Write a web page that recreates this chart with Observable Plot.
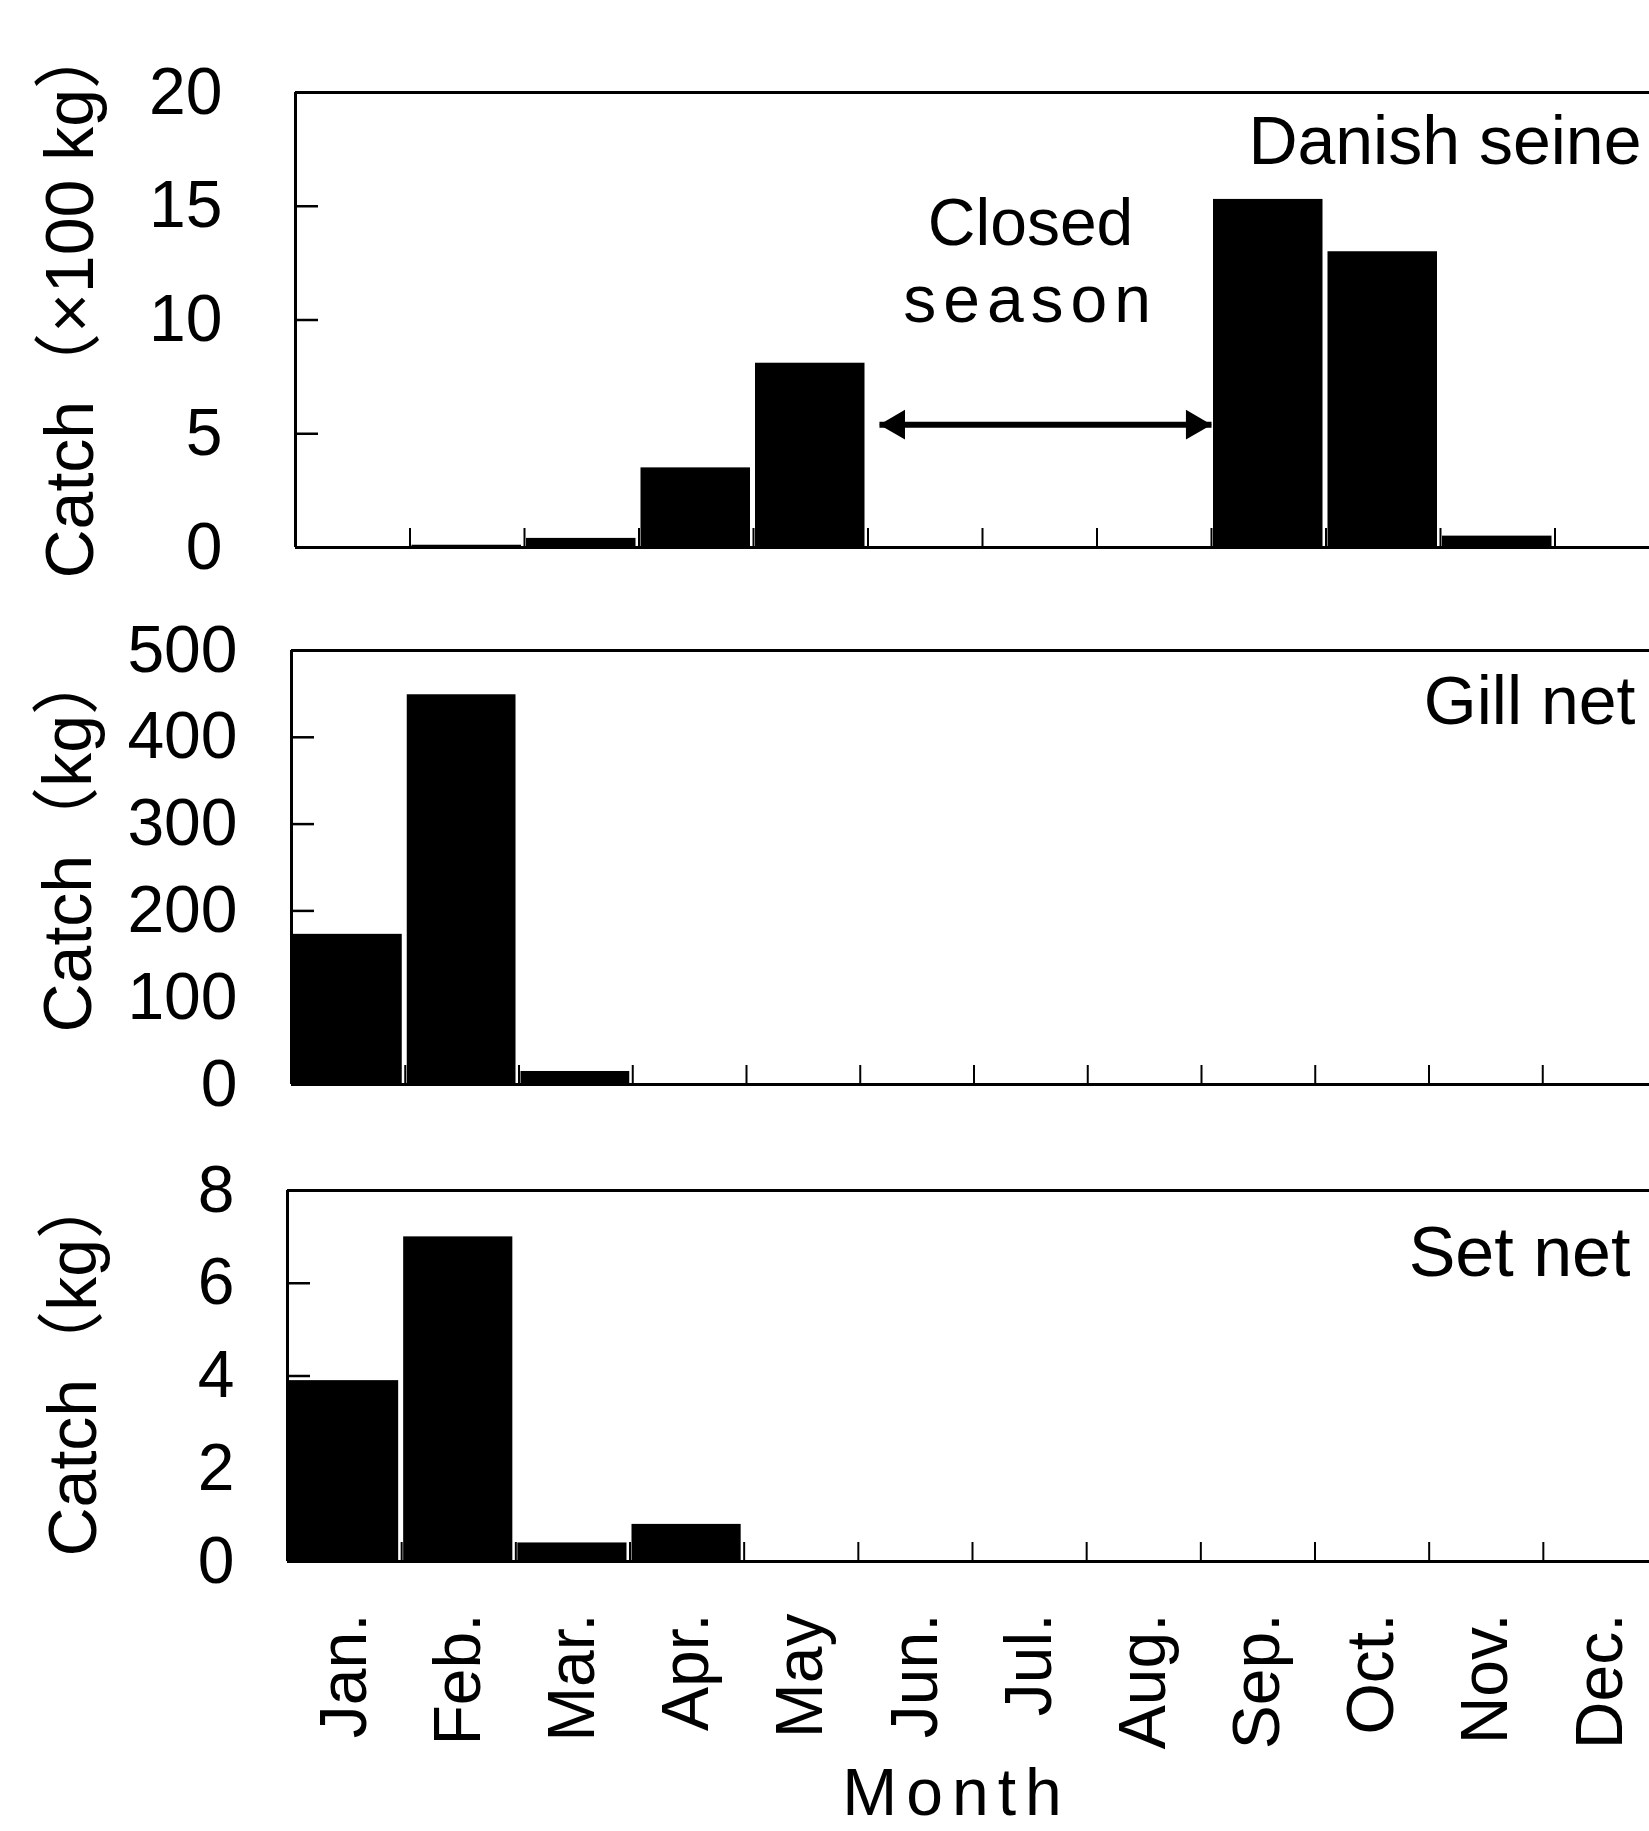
<!DOCTYPE html>
<html>
<head>
<meta charset="utf-8">
<script src="https://cdn.jsdelivr.net/npm/d3@7"></script>
<script src="https://cdn.jsdelivr.net/npm/@observablehq/plot@0.6"></script>
<style>
  html, body { margin: 0; padding: 0; background: #fff; overflow: hidden; }
  #chart { position: relative; width: 1649px; height: 1831px; overflow: hidden; }
  #chart svg { position: absolute; left: 0; }
</style>
</head>
<body>
<div id="chart"></div>
<script>
// ---- data ----
const months = ["Jan.", "Feb.", "Mar.", "Apr.", "May", "Jun.", "Jul.", "Aug.", "Sep.", "Oct.", "Nov.", "Dec."];
const danishSeine = [0, 0.1, 0.4, 3.5, 8.1, 0, 0, 0, 15.3, 13.0, 0.5, 0]; // x100 kg
const gillNet = [173, 449, 15, 1, 0, 0, 0, 0, 0, 0, 0, 0];                 // kg
const setNet = [3.9, 7.0, 0.4, 0.8, 0, 0, 0, 0, 0, 0, 0, 0];                 // kg
const danishTicks = [0, 5, 10, 15, 20];
const gillTicks = [0, 100, 200, 300, 400, 500];
const setTicks = [0, 2, 4, 6, 8];
const panelNames = ["Danish seine", "Gill net", "Set net"];
const yLabels = ["Catch（×100 kg）", "Catch（kg）", "Catch（kg）"];
const xLabel = "Month";
// closed season arrow (in month units) and its label
const closedFrom = 5.1, closedTo = 8.0, closedLevel = 5.4;
const closedText = [{t: "Closed", x: 6.42, y: 13.3}, {t: "season", x: 6.42, y: 9.9}];

const FONT = "'Liberation Sans', Arial, 'Noto Sans CJK JP', sans-serif";
const W = 1649;
const boundaries = d3.range(1, 12);

function panel(o) {
  const rows = o.values.map((v, i) => ({i, v}));
  const top = o.ticks[o.ticks.length - 1];
  const marks = [
    // inward month-boundary ticks
    Plot.axisX({ticks: boundaries, tickSize: -19, tickFormat: () => "", strokeWidth: 2, label: null}),
    // inward y ticks
    Plot.axisY({ticks: o.ticks, tickSize: -23, tickFormat: () => "", strokeWidth: 2.5, label: null}),
    // y tick labels
    Plot.axisY({ticks: o.ticks, tickSize: 0, tickPadding: o.tickPad, fontSize: 66, label: null}),
    Plot.rectY(rows, {x1: d => d.i, x2: d => d.i + 1, y: "v", fill: "black", insetLeft: 2, insetRight: 3}),
    // frame: top, bottom, left
    Plot.ruleY([0, top], {stroke: "black", strokeWidth: 3}),
    Plot.ruleX([0], {stroke: "black", strokeWidth: 3}),
    Plot.text([o.name], {text: d => d, frameAnchor: "top-right", dx: o.nameDx, dy: o.nameDy,
      textAnchor: "end", lineAnchor: "bottom", fontSize: o.nameSize}),
    Plot.text([o.ylabel], {text: d => d, frameAnchor: "bottom-left", dx: o.ylDx, dy: o.ylDy,
      rotate: -90, textAnchor: "start", lineAnchor: "bottom", fontSize: 68})
  ];
  if (o.extra) marks.push(...o.extra);
  return Plot.plot({
    width: W, height: o.height,
    marginTop: o.mt, marginBottom: o.mb, marginLeft: o.ml, marginRight: o.mr,
    x: {type: "linear", domain: [0, 12], label: null},
    y: {domain: [0, top], label: null},
    style: {fontFamily: FONT, fontSize: "66px", color: "black", background: "white"},
    marks
  });
}

const chart = document.getElementById("chart");

// Panel 1: Danish seine
const arrowEnds = [{x: closedFrom, dir: -90, dx: 17}, {x: closedTo, dir: 90, dx: -17}];
const p1 = panel({
  values: danishSeine, ticks: danishTicks, name: panelNames[0], ylabel: yLabels[0],
  height: 600, mt: 92, mb: 53, ml: 295, mr: -20, tickPad: 73,
  nameDx: -28, nameDy: 71, nameSize: 68, ylDx: -203, ylDy: 31,
  extra: [
    Plot.link([{a: closedFrom, b: closedTo}], {
      x1: "a", x2: "b", y1: () => closedLevel, y2: () => closedLevel,
      stroke: "black", strokeWidth: 6, insetStart: 14, insetEnd: 14
    }),
    Plot.dot(arrowEnds.slice(0, 1), {x: "x", y: () => closedLevel, symbol: "triangle", rotate: "dir",
      r: 11, fill: "black", stroke: null, dx: 17}),
    Plot.dot(arrowEnds.slice(1), {x: "x", y: () => closedLevel, symbol: "triangle", rotate: "dir",
      r: 11, fill: "black", stroke: null, dx: -17}),
    Plot.text(closedText, {x: "x", y: "y", text: "t", textAnchor: "middle", lineAnchor: "bottom", fontSize: 66})
  ]
});
p1.style.top = "0px";
chart.appendChild(p1);

// Panel 2: Gill net
const p2 = panel({
  values: gillNet, ticks: gillTicks, name: panelNames[1], ylabel: yLabels[1],
  height: 540, mt: 50, mb: 56, ml: 291, mr: -7, tickPad: 54,
  nameDx: -21, nameDy: 73, nameSize: 68, ylDx: -201, ylDy: -52
});
p2.style.top = "600px";
chart.appendChild(p2);

// Panel 3: Set net (with month axis)
const p3 = panel({
  values: setNet, ticks: setTicks, name: panelNames[2], ylabel: yLabels[2],
  height: 691, mt: 50, mb: 270, ml: 287, mr: -8, tickPad: 53,
  nameDx: -27, nameDy: 85, nameSize: 70, ylDx: -192, ylDy: -5,
  extra: [
    Plot.text(months, {x: (d, i) => i + 0.5, text: d => d, frameAnchor: "bottom", dy: 52,
      rotate: -90, textAnchor: "end", lineAnchor: "middle", fontSize: 66}),
    Plot.text([xLabel], {text: d => d, frameAnchor: "bottom", dx: -16, dy: 253,
      textAnchor: "middle", lineAnchor: "bottom", fontSize: 66})
  ]
});
p3.style.top = "1140px";
chart.appendChild(p3);

// letter spacing for the wide-set words
d3.selectAll("#chart text").filter(function () {
  return this.textContent === "season";
}).attr("letter-spacing", 7);
d3.selectAll("#chart text").filter(function () {
  return this.textContent === xLabel;
}).attr("letter-spacing", 9);
</script>
</body>
</html>
